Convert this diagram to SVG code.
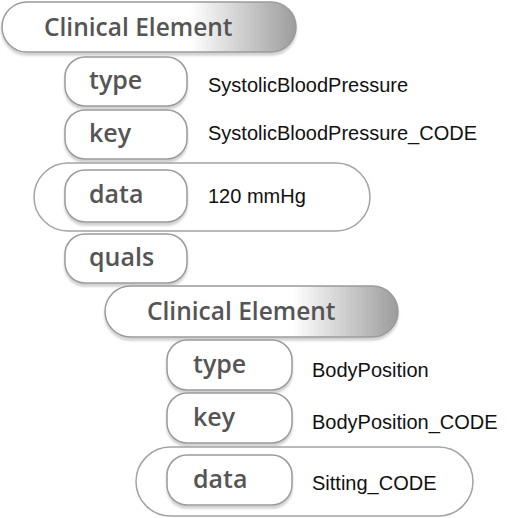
<svg xmlns="http://www.w3.org/2000/svg" width="508" height="518" viewBox="0 0 508 518">
<defs>
  <linearGradient id="ceGrad" x1="0" y1="0" x2="1" y2="0">
    <stop offset="0" stop-color="#ffffff"/>
    <stop offset="0.64" stop-color="#ffffff"/>
    <stop offset="1" stop-color="#9c9c9c"/>
  </linearGradient>
  <filter id="sh" x="-10%" y="-10%" width="120%" height="130%">
    <feDropShadow dx="0" dy="3" stdDeviation="0.8" flood-color="#000" flood-opacity="0.18"/>
  </filter>
</defs>
<style>
  .ce { fill: url(#ceGrad); stroke: #9a9a9a; stroke-width: 1.5; filter: url(#sh); }
  .box { fill: #ffffff; stroke: #9a9a9a; stroke-width: 1.5; filter: url(#sh); }
  .outer { fill: #ffffff; stroke: #a3a3a3; stroke-width: 1.5; }
  .lbl { font-family: "Open Sans", "DejaVu Sans", sans-serif; font-weight: 600; font-size: 25px; fill: #555555; }
  .celbl { font-family: "Open Sans", "DejaVu Sans", sans-serif; font-weight: 600; font-size: 24.5px; fill: #555555; }
  .val { font-family: "Liberation Sans", Arial, sans-serif; font-size: 20px; fill: #111111; }
</style>
<rect width="508" height="518" fill="#ffffff"/>

<g id="ce1">
  <rect class="ce" x="2" y="2" width="294" height="50" rx="25"/>
  <text class="celbl" x="44" y="36">Clinical Element</text>
</g>
<g id="type1">
  <rect class="box" x="65" y="57" width="122" height="49" rx="20"/>
  <text class="lbl" x="89" y="89">type</text>
  <text class="val" x="208" y="92">SystolicBloodPressure</text>
</g>
<g id="key1">
  <rect class="box" x="65" y="110" width="122" height="49" rx="20"/>
  <text class="lbl" x="89" y="142">key</text>
  <text class="val" x="208" y="140">SystolicBloodPressure_CODE</text>
</g>
<g id="data1">
  <rect class="outer" x="34" y="163" width="336" height="68" rx="34"/>
  <rect class="box" x="65" y="170" width="122" height="52" rx="20"/>
  <text class="lbl" x="89" y="203">data</text>
  <text class="val" x="208" y="203">120 mmHg</text>
</g>
<g id="quals">
  <rect class="box" x="65" y="234" width="122" height="49" rx="20"/>
  <text class="lbl" x="89" y="266">quals</text>
</g>
<g id="ce2">
  <rect class="ce" x="105" y="286" width="293" height="51" rx="25.5"/>
  <text class="celbl" x="147" y="320">Clinical Element</text>
</g>
<g id="type2">
  <rect class="box" x="167" y="340" width="125" height="50" rx="20"/>
  <text class="lbl" x="193" y="373">type</text>
  <text class="val" x="312" y="377">BodyPosition</text>
</g>
<g id="key2">
  <rect class="box" x="167" y="393" width="125" height="50" rx="20"/>
  <text class="lbl" x="193" y="426">key</text>
  <text class="val" x="312" y="429">BodyPosition_CODE</text>
</g>
<g id="data2">
  <rect class="outer" x="136" y="447" width="337" height="69" rx="34.5"/>
  <rect class="box" x="167" y="455" width="125" height="50" rx="20"/>
  <text class="lbl" x="193" y="488">data</text>
  <text class="val" x="312" y="490">Sitting_CODE</text>
</g>
</svg>
